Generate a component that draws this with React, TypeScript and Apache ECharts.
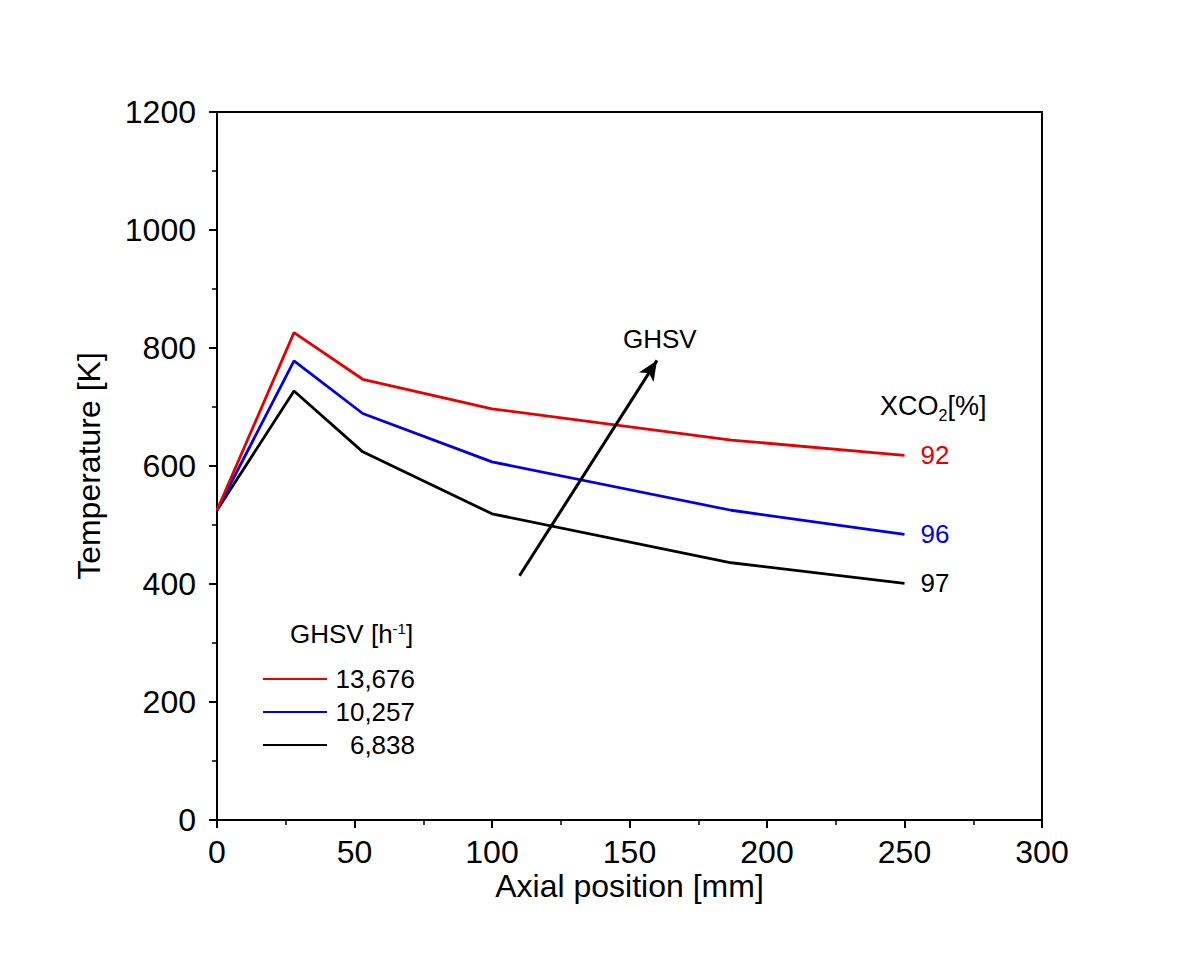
import React, { useEffect, useRef } from "react";
import * as echarts from "echarts";

// Axial temperature profiles for three space velocities
const axialPosition = [0, 28, 53, 100, 187, 250];
const ghsvLabels = ["13,676", "10,257", "6,838"];
const temp13676 = [525, 826, 747, 697, 644, 618];
const temp10257 = [525, 778, 689, 607, 525, 484];
const temp6838 = [525, 727, 624, 519, 436, 401];
const temperatures = [temp13676, temp10257, temp6838];
const xco2 = [92, 96, 97];
const seriesColors = ["#e60000", "#0000e6", "#000000"];

// Direction of increasing GHSV (axis coordinates)
const arrowStart = [110, 414];
const arrowEnd = [160, 779];

const FONT = "'Liberation Sans', Arial, sans-serif";

export default function App() {
  const ref = useRef<HTMLDivElement>(null);

  useEffect(() => {
    if (!ref.current) return;
    const chart = echarts.init(ref.current, undefined, { renderer: "svg" });

    const series: any[] = temperatures.map((temps, k) => ({
      name: ghsvLabels[k],
      type: "line",
      symbol: "none",
      color: seriesColors[k],
      lineStyle: { color: seriesColors[k], width: 2.8 },
      data: axialPosition.map((x, i) => [x, temps[i]]),
      endLabel: {
        show: true,
        formatter: String(xco2[k]),
        color: seriesColors[k],
        fontSize: 26,
        fontFamily: FONT,
        distance: 16,
      },
      z: 3 - k,
    }));

    // Arrow annotation
    series.push({
      type: "line",
      data: [],
      silent: true,
      markLine: {
        silent: true,
        symbol: ["none", "arrow"],
        symbolSize: [13, 20],
        label: { show: false },
        lineStyle: { color: "#000", width: 3, type: "solid" },
        data: [[{ coord: arrowStart }, { coord: arrowEnd }]],
      },
    });

    const axisCommon = {
      type: "value" as const,
      axisLine: { show: true, lineStyle: { color: "#000", width: 2 } },
      axisTick: { show: true, inside: false, length: 8, lineStyle: { color: "#000", width: 2 } },
      minorTick: { show: true, splitNumber: 2, length: 5, lineStyle: { color: "#000", width: 1.5 } },
      splitLine: { show: false },
      minorSplitLine: { show: false },
      nameMoveOverlap: false,
    };

    chart.setOption({
      animation: false,
      backgroundColor: "#ffffff",
      textStyle: { fontFamily: FONT },
      grid: {
        left: 217,
        right: 158,
        top: 112,
        bottom: 157,
        show: true,
        borderColor: "#000",
        borderWidth: 2,
        backgroundColor: "transparent",
      },
      xAxis: {
        ...axisCommon,
        min: 0,
        max: 300,
        interval: 50,
        axisLabel: {
          fontSize: 32,
          color: "#000",
          margin: 16,
          fontFamily: FONT,
          formatter: (v: number) => String(v),
        },
        name: "Axial position [mm]",
        nameLocation: "middle",
        nameGap: 50,
        nameTextStyle: { fontSize: 32, color: "#000", fontFamily: FONT },
      },
      yAxis: {
        ...axisCommon,
        min: 0,
        max: 1200,
        interval: 200,
        axisLabel: {
          fontSize: 32,
          color: "#000",
          margin: 21,
          fontFamily: FONT,
          formatter: (v: number) => String(v),
        },
        name: "Temperature [K]",
        nameLocation: "middle",
        nameGap: 112,
        nameTextStyle: { fontSize: 32, color: "#000", fontFamily: FONT },
      },
      legend: {
        data: ghsvLabels,
        left: 258,
        top: 661,
        orient: "vertical",
        icon: "rect",
        itemWidth: 64,
        itemHeight: 2,
        itemGap: 7,
        selectedMode: false,
        formatter: (name: string) => `{v|${name}}`,
        textStyle: {
          fontSize: 26,
          color: "#000",
          fontFamily: FONT,
          rich: {
            v: {
              fontSize: 26,
              color: "#000",
              fontFamily: FONT,
              width: 83,
              align: "right",
              lineHeight: 27,
            },
          },
        },
      },
      graphic: [
        {
          type: "text",
          left: 623,
          top: 326,
          style: { text: "GHSV", fontSize: 26, fill: "#000", fontFamily: FONT },
        },
        {
          type: "text",
          left: 880,
          top: 392,
          style: {
            text: "XCO{sub|2}[%]",
            fontSize: 27,
            fill: "#000",
            fontFamily: FONT,
            rich: {
              sub: { fontSize: 16, fontFamily: FONT, verticalAlign: "bottom", lineHeight: 36 },
            },
          },
        },
        {
          type: "text",
          left: 290,
          top: 621,
          style: {
            text: "GHSV [h{sup|-1}]",
            fontSize: 26,
            fill: "#000",
            fontFamily: FONT,
            rich: {
              sup: { fontSize: 15, fontFamily: FONT, verticalAlign: "top" },
            },
          },
        },
      ],
      series,
    });

    return () => chart.dispose();
  }, []);

  return (
    <div
      ref={ref}
      style={{ position: "fixed", left: 0, top: 0, width: 1200, height: 977, background: "#fff" }}
    />
  );
}
